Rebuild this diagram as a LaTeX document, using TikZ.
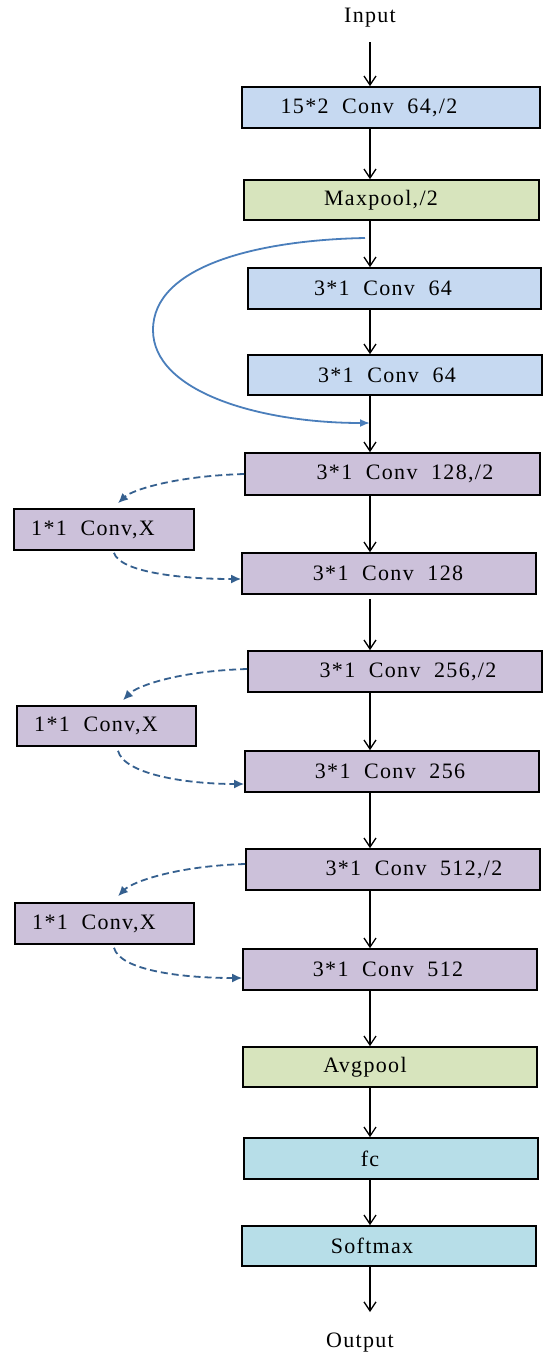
\documentclass[tikz,border=0pt]{standalone}
\usepackage{fontspec}
\setmainfont{Liberation Serif}[LetterSpace=6,WordSpace=2]
\usetikzlibrary{arrows.meta}
\definecolor{bluebox}{HTML}{C6D9F1}
\definecolor{greenbox}{HTML}{D7E4BD}
\definecolor{purplebox}{HTML}{CCC1DA}
\definecolor{cyanbox}{HTML}{B7DEE8}
\definecolor{skipblue}{HTML}{4A7EBB}
\definecolor{dashblue}{HTML}{35608F}
\newcommand\shtext[2]{\hspace*{#1pt}#2\hspace*{-#1pt}}
\tikzset{
  layer/.style={draw=black, line width=1.6pt, inner sep=0pt, font=\fontsize{22}{26}\selectfont},
  flow/.style={line width=1.3pt, -{Straight Barb[length=9pt,width=12pt,line width=1.3pt]}},
  skip/.style={draw=skipblue, line width=1.8pt, -{Latex[length=10pt,width=8pt]}},
  short/.style={draw=dashblue, line width=1.8pt, dash pattern=on 7pt off 4pt, -{Latex[length=10pt,width=9pt]}},
  lbl/.style={font=\fontsize{22}{26}\selectfont, inner sep=0pt}
}
\begin{document}
\begin{tikzpicture}[x=1pt,y=1pt]
\useasboundingbox[fill=white] (0,0) rectangle (550,-1363);
\node[layer, fill=bluebox, minimum width=298pt, minimum height=41pt] (b1) at (391,-107.5) {\shtext{-22}{15*2 Conv 64,/2}};
\node[layer, fill=greenbox, minimum width=295pt, minimum height=40pt] (b2) at (391.5,-200) {\shtext{-10.5}{Maxpool,/2}};
\node[layer, fill=bluebox, minimum width=293pt, minimum height=41pt] (b3) at (394.5,-288.5) {\shtext{-11.5}{3*1 Conv 64}};
\node[layer, fill=bluebox, minimum width=294pt, minimum height=40pt] (b4) at (395,-375) {\shtext{-8}{3*1 Conv 64}};
\node[layer, fill=purplebox, minimum width=295pt, minimum height=42pt] (b5) at (392.5,-474) {\shtext{12.5}{3*1 Conv 128,/2}};
\node[layer, fill=purplebox, minimum width=180pt, minimum height=41pt] (s1) at (104,-529.5) {\shtext{-11}{1*1 Conv,X}};
\node[layer, fill=purplebox, minimum width=294pt, minimum height=41pt] (b6) at (389,-573.5) {\shtext{-1}{3*1 Conv 128}};
\node[layer, fill=purplebox, minimum width=294pt, minimum height=41pt] (b7) at (395,-671.5) {\shtext{13}{3*1 Conv 256,/2}};
\node[layer, fill=purplebox, minimum width=179pt, minimum height=40pt] (s2) at (106.5,-726) {\shtext{-10.5}{1*1 Conv,X}};
\node[layer, fill=purplebox, minimum width=294pt, minimum height=41pt] (b8) at (392,-771.5) {\shtext{-2}{3*1 Conv 256}};
\node[layer, fill=purplebox, minimum width=294pt, minimum height=41pt] (b9) at (393,-869.5) {\shtext{21}{3*1 Conv 512,/2}};
\node[layer, fill=purplebox, minimum width=179pt, minimum height=41pt] (s3) at (104.5,-923.5) {\shtext{-10.5}{1*1 Conv,X}};
\node[layer, fill=purplebox, minimum width=294pt, minimum height=41pt] (b10) at (390,-969.5) {\shtext{-2}{3*1 Conv 512}};
\node[layer, fill=greenbox, minimum width=294pt, minimum height=40pt] (avg) at (390,-1067) {\shtext{-25}{Avgpool}};
\node[layer, fill=cyanbox, minimum width=294pt, minimum height=41pt] (fc) at (391,-1158.5) {\shtext{-21}{fc}};
\node[layer, fill=cyanbox, minimum width=294pt, minimum height=40pt] (soft) at (389,-1246) {\shtext{-17}{Softmax}};
\node[lbl] (in) at (370,-18) {Input};
\node[lbl] (out) at (360,-1343) {Output};
\coordinate (ax) at (370,0);
% main flow
\draw[flow] (370,-42) -- (b1.north -| ax);
\draw[flow] (b1.south -| ax) -- (b2.north -| ax);
\draw[flow] (b2.south -| ax) -- (b3.north -| ax);
\draw[flow] (b3.south -| ax) -- (b4.north -| ax);
\draw[flow] (b4.south -| ax) -- (b5.north -| ax);
\draw[flow] (b5.south -| ax) -- (b6.north -| ax);
\draw[flow] ([yshift=-4pt]b6.south -| ax) -- (b7.north -| ax);
\draw[flow] (b7.south -| ax) -- (b8.north -| ax);
\draw[flow] (b8.south -| ax) -- (b9.north -| ax);
\draw[flow] (b9.south -| ax) -- (b10.north -| ax);
\draw[flow] (b10.south -| ax) -- (avg.north -| ax);
\draw[flow] (avg.south -| ax) -- (fc.north -| ax);
\draw[flow] (fc.south -| ax) -- (soft.north -| ax);
\draw[flow] (soft.south -| ax) -- (370,-1312);
% identity skip
\coordinate (skS) at (365,-238);
\coordinate (skE) at (370,-423);
\draw[skip] (skS) .. controls (260,-240) and (153,-265) .. (153,-330) .. controls (153,-392) and (260,-423) .. (skE);
% projection shortcuts
\draw[short] (b5.west) .. controls (175,-476) and (132,-490) .. ([xshift=14pt,yshift=5pt]s1.north);
\draw[short] ([xshift=10pt,yshift=-2pt]s1.south) .. controls (120,-572) and (180,-579) .. ([yshift=-5.5pt]b6.west);
\draw[short] ([yshift=2.5pt]b7.west) .. controls (178,-671) and (137,-686) .. ([xshift=16.5pt,yshift=5pt]s2.north);
\draw[short] ([xshift=11.5pt,yshift=-4pt]s2.south) .. controls (124,-774) and (185,-784) .. ([yshift=-12.5pt]b8.west);
\draw[short] ([yshift=5.5pt]b9.west) .. controls (176,-866) and (132,-882) .. ([xshift=13.5pt,yshift=6pt]s3.north);
\draw[short] ([xshift=9.5pt,yshift=-3pt]s3.south) .. controls (120,-970) and (180,-978) .. ([yshift=-8.5pt]b10.west);
\end{tikzpicture}
\end{document}
